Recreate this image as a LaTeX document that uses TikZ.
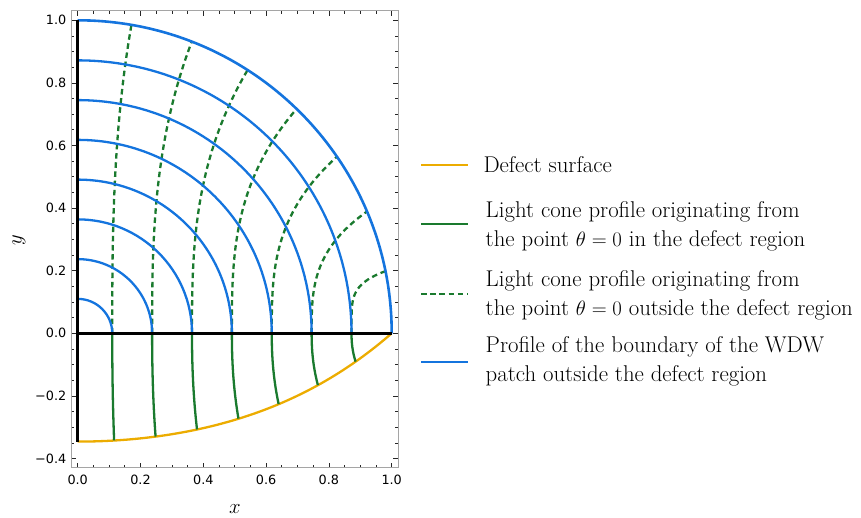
\documentclass[tikz,border=0pt]{standalone}
\usepackage{fontspec}
\newfontfamily\tickfont{DejaVu Sans}
\definecolor{cyel}{RGB}{236,172,0}
\definecolor{cgrn}{RGB}{26,122,46}
\definecolor{cblu}{RGB}{20,116,222}
\definecolor{cfrm}{RGB}{165,165,165}
\begin{document}
\begin{tikzpicture}[x=1pt,y=1pt,
  yel/.style={cyel, line width=2.3pt},
  grn/.style={cgrn, line width=2.3pt},
  grnd/.style={cgrn, line width=2.3pt, dash pattern=on 5.5pt off 3.7pt},
  blu/.style={cblu, line width=2.3pt},
  axl/.style={black, line width=2.8pt},
  frm/.style={cfrm, line width=1pt},
  tck/.style={black!85, line width=0.7pt},
  ticklab/.style={font=\tickfont\fontsize{12.8}{14}\selectfont, inner sep=0pt},
  axlab/.style={font=\fontsize{20.5}{22}\selectfont, inner sep=0pt},
  legtxt/.style={font=\fontsize{22.8}{28.8}\selectfont, align=left, anchor=west, inner sep=0pt},
  legyel/.style={cyel, line width=1.7pt},
  leggrn/.style={cgrn, line width=1.7pt},
  leggrnd/.style={cgrn, line width=1.7pt, dash pattern=on 5.5pt off 3.7pt},
  legblu/.style={cblu, line width=1.7pt},
]
\useasboundingbox (0,0) rectangle (861,517);
\begin{scope}[shift={(77.7pt,183.7pt)}, x=314pt, y=313pt]
  % defect surface
  \draw[yel] plot[domain=0:1, samples=80] (\x, {-0.346+0.2544*\x*\x+0.0916*\x*\x*\x*\x});
  % light cone profiles in the defect region (solid)
  \foreach \rr/\xb/\yb in {0.110/0.116/0.3426, 0.237/0.248/0.3300, 0.364/0.380/0.3074,
                           0.491/0.512/0.2730, 0.618/0.640/0.2264, 0.745/0.765/0.1657,
                           0.872/0.885/0.0905}
    \draw[grn] (\rr,0) -- plot[domain=0.001:\yb, samples=30, variable=\t]
      ({\rr+(\xb-\rr)*pow(\t/\yb,2.2)}, -\t);
  % light cone profiles outside the defect region (dashed)
  \foreach \rr/\xe/\ye/\pp in {0.110/0.1711/0.9853/2.8, 0.237/0.3633/0.9317/2.8,
                               0.364/0.5410/0.8410/2.8, 0.491/0.6972/0.7169/3.0,
                               0.618/0.8256/0.5642/3.0, 0.745/0.9212/0.3891/3.1,
                               0.872/0.9801/0.1985/5.0}
    \draw[grnd] (\rr,0) -- plot[domain=0.001:\ye, samples=60, variable=\t]
      ({\rr+(\xe-\rr)*pow(\t/\ye,\pp)}, \t);
  % WDW patch boundary profiles
  \foreach \rr in {0.110,0.237,0.364,0.491,0.618,0.745,0.872}
    \draw[blu] (0,\rr) arc[start angle=90, end angle=0, radius=\rr];
  \draw[blu, line width=2.6pt] (0,1) arc[start angle=90, end angle=0, radius=1];
  % axes
  \draw[axl] (0,-0.346) -- (0,1);
  \draw[axl] (0,0) -- (1,0);
  % ticks
  \foreach \i in {0,...,20} {
    \pgfmathsetmacro\v{\i*0.05}
    \pgfmathtruncatemacro\mj{mod(\i,4)==0 ? 1 : 0}
    \ifnum\mj=1 \def\len{5pt}\else\def\len{3pt}\fi
    \draw[tck] (\v,-0.4294) -- ++(0,\len);
    \draw[tck] (\v,1.030) -- ++(0,-\len);
  }
  \foreach \i in {-8,...,20} {
    \pgfmathsetmacro\v{\i*0.05}
    \pgfmathtruncatemacro\mj{mod(\i+8,4)==0 ? 1 : 0}
    \ifnum\mj=1 \def\len{5pt}\else\def\len{3pt}\fi
    \draw[tck] (-0.0213,\v) -- ++(\len,0);
    \draw[tck] (1.021,\v) -- ++(-\len,0);
  }
  % frame
  \draw[frm] (-0.0213,-0.4294) rectangle (1.021,1.030);
  % tick labels
  \foreach \v/\l [count=\n] in {0/0.0,0.2/0.2,0.4/0.4,0.6/0.6,0.8/0.8,1/1.0}
    \node[ticklab] (xt\n) at ([yshift=-12.5pt]\v,-0.4294) {\l};
  \foreach \v/\l [count=\n] in {-0.4/−0.4,-0.2/−0.2,0/0.0,0.2/0.2,0.4/0.4,0.6/0.6,0.8/0.8,1/1.0}
    \node[ticklab, anchor=east] (yt\n) at ([xshift=-4.5pt]-0.0213,\v) {\l};
\end{scope}
% axis labels
\node[axlab] (xlab) at (235,8) {$x$};
\node[axlab, rotate=90] (ylab) at (19,277) {$y$};
% legend
\draw[legyel] (421,352) -- (467.7,352);
\node[legtxt] (l1) at (483.3,352) {Defect surface};
\draw[leggrn] (421,293) -- (467.7,293);
\node[legtxt] (l2) at (485.5,291) {Light cone profile originating from\\the point $\theta=0$ in the defect region};
\draw[leggrnd] (421,223) -- (467.7,223);
\node[legtxt] (l3) at (485.5,222) {Light cone profile originating from\\the point $\theta=0$ outside the defect region};
\draw[legblu] (421,155) -- (467.7,155);
\node[legtxt] (l4) at (485.5,156) {Profile of the boundary of the WDW\\patch outside the defect region};
\end{tikzpicture}
\end{document}
